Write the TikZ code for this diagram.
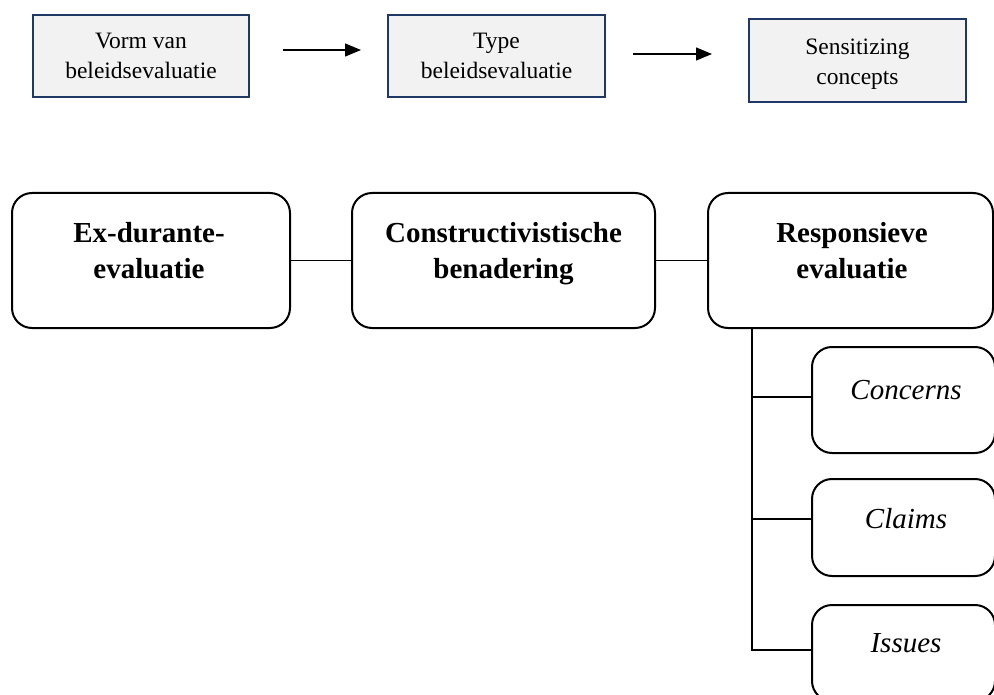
\documentclass[tikz,border=0pt]{standalone}
\usepackage{fontspec}
\setmainfont{Liberation Serif}
\usetikzlibrary{arrows.meta,calc}
\definecolor{navy}{HTML}{1F3864}
\definecolor{lightfill}{HTML}{F2F2F2}
\tikzset{
  topbox/.style={draw=navy, line width=2pt, fill=lightfill, rectangle, inner sep=0pt},
  mainbox/.style={draw=black, line width=2pt, rectangle, rounded corners=20pt, inner sep=0pt},
  toptext/.style={align=center, inner sep=0pt, font=\fontsize{23.5}{30}\selectfont},
  maintext/.style={align=center, inner sep=0pt, font=\fontsize{29}{36}\selectfont\bfseries},
  subtext/.style={inner sep=0pt, font=\fontsize{29}{36}\selectfont\itshape},
  conn/.style={draw=black, line width=1.1pt},
  arr/.style={draw=black, line width=1.3pt, -{Triangle[length=16pt,width=13pt]}},
}
\begin{document}
\begin{tikzpicture}[x=1pt,y=-1pt]
\useasboundingbox (0,0) rectangle (994,695);
\clip (0,0) rectangle (994,695);
% top row
\node[topbox, minimum width=216pt, minimum height=82pt] (t1) at (141,56) {};
\node[toptext] (t1txt) at (141,58) {Vorm van\strut\\beleidsevaluatie\strut};
\node[topbox, minimum width=217pt, minimum height=82pt] (t2) at (496.5,56) {};
\node[toptext] (t2txt) at (496.5,58) {Type\strut\\beleidsevaluatie\strut};
\node[topbox, minimum width=217pt, minimum height=83pt] (t3) at (857.5,60.5) {};
\node[toptext] (t3txt) at (857.5,64) {Sensitizing\strut\\concepts\strut};
\coordinate (a1s) at (283,50);
\coordinate (a1e) at (361,50);
\coordinate (a2s) at (633,54);
\coordinate (a2e) at (712,54);
\draw[arr] (a1s) -- (a1e);
\draw[arr] (a2s) -- (a2e);
% main row
\node[mainbox, minimum width=278pt, minimum height=135pt] (m1) at (151,260.5) {};
\node[maintext] (m1txt) at (149,253) {Ex-durante-\strut\\evaluatie\strut};
\node[mainbox, minimum width=303pt, minimum height=135pt] (m2) at (503.5,260.5) {};
\node[maintext] (m2txt) at (503.5,253) {Constructivistische\strut\\benadering\strut};
\node[mainbox, minimum width=285pt, minimum height=135pt] (m3) at (850.5,260.5) {};
\node[maintext] (m3txt) at (852,253) {Responsieve\strut\\evaluatie\strut};
\draw[conn] (m1.east) -- (m2.west);
\draw[conn] (m2.east) -- (m3.west);
% sub boxes
\node[mainbox, minimum width=183pt, minimum height=106pt] (s1) at (903.5,400) {};
\node[subtext] (s1txt) at (906,392) {Concerns\strut};
\node[mainbox, minimum width=183pt, minimum height=97pt] (s2) at (903.5,527.5) {};
\node[subtext] (s2txt) at (906,521) {Claims\strut};
\node[mainbox, minimum width=183pt, minimum height=96pt] (s3) at (903.5,653) {};
\node[subtext] (s3txt) at (906,645) {Issues\strut};
\coordinate (trunk) at (752,328);
\coordinate (b1) at ($(s1.north west)+(0,51)$);
\coordinate (b2) at ($(s2.north west)+(0,41)$);
\coordinate (b3) at ($(s3.north west)+(0,46)$);
\draw[conn] (trunk) -- (trunk |- b3) -- (b3);
\draw[conn] (trunk |- b1) -- (b1);
\draw[conn] (trunk |- b2) -- (b2);
\end{tikzpicture}
\end{document}
